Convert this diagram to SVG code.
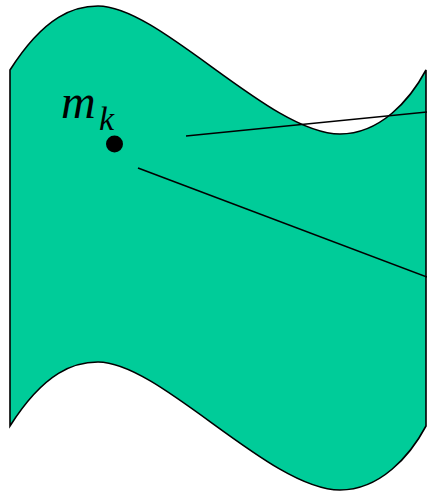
<svg xmlns="http://www.w3.org/2000/svg" width="427" height="492" viewBox="0 0 427 492">
<style>
.line{stroke:#000;stroke-width:1.6;fill:none}
.lbl{font-family:"Liberation Serif","Times New Roman",serif;font-style:italic;fill:#000}
</style>
<g id="surface">
<path d="M10,70 C45,15 75,6 98,6 C160,6 270,134 340,134 C380,134 410,100 426,70 L426,426 C410,456 380,490 340,490 C270,490 160,362 98,362 C75,362 45,371 10,426 Z" fill="#00CC99" stroke="#000" stroke-width="1.6"/>
</g>
<g id="point">
<circle cx="114.5" cy="144" r="8.5" fill="#000"/>
<text class="lbl" x="61" y="118" font-size="48">m</text>
<text class="lbl" x="99" y="130" font-size="34">k</text>
</g>
<g id="connectors">
<line class="line" x1="186" y1="136" x2="427" y2="112"/>
<line class="line" x1="138" y1="168" x2="427" y2="277"/>
</g>
</svg>
